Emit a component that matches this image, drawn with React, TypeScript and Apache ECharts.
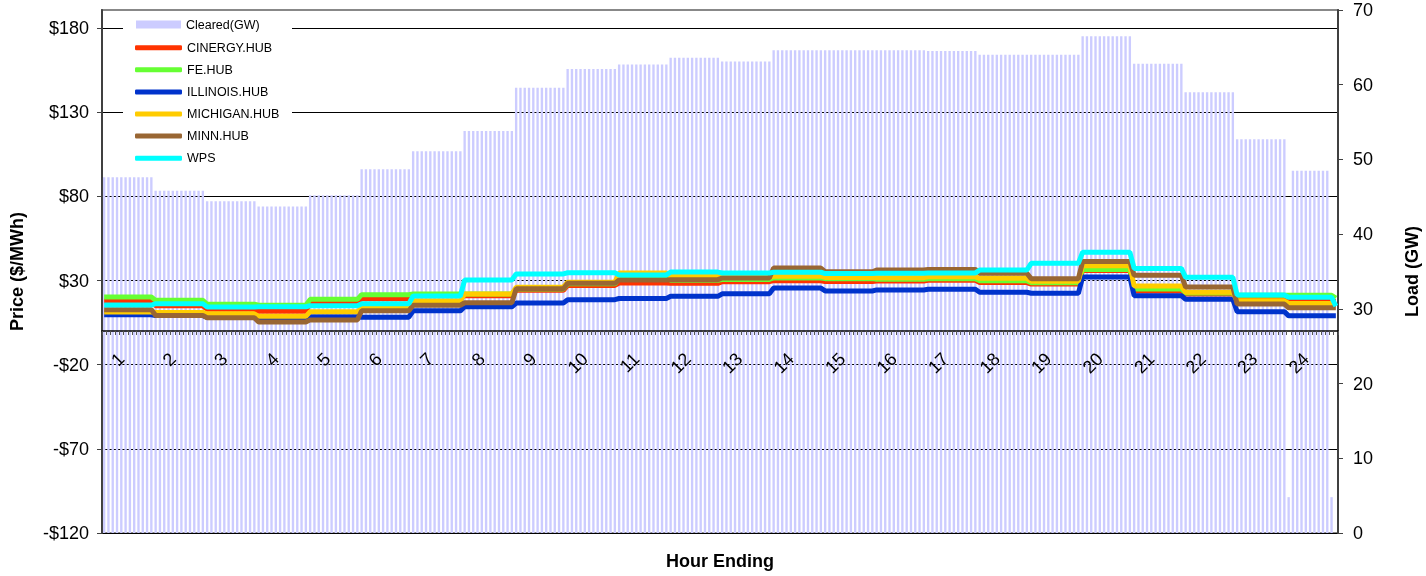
import React, { useEffect, useRef } from 'react';
import * as echarts from 'echarts';

const FONT = '"Liberation Sans", Arial, sans-serif';

const hours = ['1','2','3','4','5','6','7','8','9','10','11','12','13','14','15','16','17','18','19','20','21','22','23','24'];
const intervalsPerHour = 12;

const loadByHour = [47.6, 45.8, 44.4, 43.7, 45.2, 48.7, 51.1, 53.8, 59.6, 62.1, 62.7, 63.6, 63.1, 64.6, 64.6, 64.6, 64.5, 64.0, 64.0, 66.5, 62.8, 59.0, 52.7, 48.5];
// individual 5-minute intervals that differ from the hourly level
const loadOverrides: [number, number | null][] = [[276, 4.8], [286, 4.8], [287, null]];

const cinergy = [17.8, 15.0, 12.9, 11.7, 17.0, 19.2, 21.0, 21.0, 24.2, 27.1, 28.5, 28.3, 29.3, 29.9, 29.4, 29.7, 30.1, 28.8, 27.9, 36.0, 23.8, 22.0, 19.6, 17.6];
const fe = [20.2, 18.2, 15.9, 15.3, 18.8, 21.6, 22.0, 22.0, 25.0, 28.0, 31.3, 30.2, 30.6, 31.5, 31.1, 30.7, 31.0, 29.9, 28.7, 36.6, 25.0, 22.6, 21.3, 21.2];
const illinois = [9.7, 9.2, 8.0, 6.5, 8.5, 8.2, 12.0, 14.4, 16.6, 18.6, 19.3, 20.6, 22.1, 25.5, 23.8, 24.4, 24.8, 23.0, 22.4, 32.1, 21.0, 18.8, 11.5, 9.0];
const michigan = [11.3, 11.0, 10.2, 8.7, 11.5, 13.6, 17.8, 22.0, 26.0, 29.0, 34.5, 32.6, 31.8, 32.6, 31.8, 31.7, 32.2, 31.3, 29.6, 38.8, 26.7, 23.0, 17.9, 16.4];
const minn = [12.7, 9.2, 7.9, 5.3, 6.6, 12.0, 15.3, 16.8, 25.1, 28.3, 30.3, 30.5, 31.5, 37.4, 35.2, 36.2, 36.6, 34.3, 31.1, 41.3, 33.1, 26.1, 16.0, 13.8];
const wps = [15.4, 16.2, 14.3, 14.4, 15.0, 16.2, 20.8, 30.3, 33.9, 34.6, 33.3, 35.0, 34.5, 34.9, 34.1, 34.3, 34.5, 36.2, 40.2, 46.8, 37.2, 31.9, 21.4, 20.0];
// last interval values that differ from the hourly level
const feLast = 19.5;
const wpsLast = 14.8;

const priceMin = -120;
const priceMax = 190.7;
const priceTicks = [-120, -70, -20, 30, 80, 130, 180];

const expand = (arr: number[]) => arr.flatMap((v) => Array(intervalsPerHour).fill(v) as (number | null)[]);
const categories = hours.flatMap((h) => Array.from({ length: intervalsPerHour }, (_, k) => `${h}-${k + 1}`));

const GRID_TOP = 10;
const GRID_BOTTOM = 43;
const CHART_H = 576;

export default function App() {
  const ref = useRef<HTMLDivElement>(null);
  useEffect(() => {
    if (!ref.current) return;
    const chart = echarts.init(ref.current, undefined, { renderer: 'svg' });

    const loadData = expand(loadByHour);
    loadOverrides.forEach(([i, v]) => { loadData[i] = v; });
    const feData = expand(fe); feData[feData.length - 1] = feLast;
    const wpsData = expand(wps); wpsData[wpsData.length - 1] = wpsLast;

    const lines = [
      { name: 'CINERGY.HUB', color: '#ff3300', data: expand(cinergy) },
      { name: 'FE.HUB', color: '#66ff33', data: feData },
      { name: 'ILLINOIS.HUB', color: '#0033cc', data: expand(illinois) },
      { name: 'MICHIGAN.HUB', color: '#ffcc00', data: expand(michigan) },
      { name: 'MINN.HUB', color: '#996633', data: expand(minn) },
      { name: 'WPS', color: '#00ffff', data: wpsData },
    ];

    const fmtPrice = (v: number) => (v < 0 ? '-$' + Math.abs(v) : '$' + v);

    // the category axis crosses the price axis at $0
    const plotH = CHART_H - GRID_TOP - GRID_BOTTOM;
    const zeroOffset = -plotH * (0 - priceMin) / (priceMax - priceMin);

    chart.setOption({
      animation: false,
      textStyle: { fontFamily: FONT },
      grid: { left: 102, right: 88, top: GRID_TOP, bottom: GRID_BOTTOM, containLabel: false, outerBoundsMode: 'none', show: true, borderColor: '#888', borderWidth: 2, backgroundColor: 'transparent' },
      graphic: [
        { type: 'rect', z: 1, shape: { x: 123, y: 12, width: 169, height: 158 }, style: { fill: '#ffffff' }, silent: true },
      ],
      legend: [
        {
          data: [{ name: 'Cleared(GW)', icon: 'rect' }],
          orient: 'vertical', left: 136, top: 17.5, padding: 0,
          itemWidth: 45, itemHeight: 8,
          textStyle: { fontSize: 12.5, lineHeight: 14, color: '#000', fontFamily: FONT },
          selectedMode: false,
        },
        {
          data: lines.map((l) => ({ name: l.name, icon: 'roundRect', itemStyle: { color: l.color, borderWidth: 0 } })),
          orient: 'vertical', left: 135, top: 40.7, padding: 0,
          itemWidth: 47, itemHeight: 5, itemGap: 8.1,
          textStyle: { fontSize: 12.5, lineHeight: 14, color: '#000', fontFamily: FONT },
          selectedMode: false,
        },
      ],
      xAxis: {
        type: 'category',
        data: categories,
        boundaryGap: true,
        position: 'bottom',
        offset: zeroOffset,
        z: 5,
        name: 'Hour Ending',
        nameLocation: 'middle',
        nameGap: 221,
        nameMoveOverlap: false,
        nameTextStyle: { fontSize: 18, fontWeight: 'bold', color: '#000', fontFamily: FONT },
        axisLine: { show: true, onZero: false, lineStyle: { color: '#000', width: 1.5 } },
        axisTick: { show: true, interval: 0, length: 4, lineStyle: { color: '#555', width: 1 } },
        axisLabel: {
          interval: (index: number) => index % intervalsPerHour === 4,
          formatter: (v: string) => v.split('-')[0],
          rotate: 45,
          margin: 25,
          fontSize: 18,
          color: '#000',
          fontFamily: FONT,
        },
        splitLine: { show: false },
      },
      yAxis: [
        {
          type: 'value',
          position: 'left',
          min: priceMin,
          max: priceMax,
          interval: 50,
          name: 'Price ($/MWh)',
          nameLocation: 'middle',
          nameGap: 76,
          nameTextStyle: { fontSize: 18, fontWeight: 'bold', color: '#000', fontFamily: FONT },
          axisLine: { show: true, lineStyle: { color: '#404040', width: 2 } },
          axisTick: { show: true, length: 5, lineStyle: { color: '#404040' }, customValues: priceTicks },
          axisLabel: { formatter: fmtPrice, fontSize: 18, color: '#000', margin: 13, fontFamily: FONT, customValues: priceTicks },
          splitLine: { show: true, lineStyle: { color: '#000', width: 1 } },
        },
        {
          type: 'value',
          position: 'right',
          min: 0,
          max: 70,
          interval: 10,
          name: 'Load (GW)',
          nameLocation: 'middle',
          nameGap: 65,
          nameTextStyle: { fontSize: 18, fontWeight: 'bold', color: '#000', fontFamily: FONT },
          axisLine: { show: true, lineStyle: { color: '#404040', width: 2 } },
          axisTick: { show: true, length: 5, lineStyle: { color: '#404040' } },
          axisLabel: { fontSize: 18, color: '#000', margin: 15, fontFamily: FONT },
          splitLine: { show: false },
        },
      ],
      series: [
        {
          name: 'Cleared(GW)',
          type: 'bar',
          yAxisIndex: 1,
          data: loadData,
          barWidth: '55%',
          itemStyle: { color: '#ccccff' },
          silent: true,
        },
        ...lines.map((l) => ({
          name: l.name,
          type: 'line',
          yAxisIndex: 0,
          data: l.data,
          showSymbol: false,
          symbol: 'none',
          color: l.color,
          itemStyle: { color: l.color },
          lineStyle: { color: l.color, width: 5 },
          silent: true,
        })),
      ],
    });
    return () => chart.dispose();
  }, []);
  return <div ref={ref} style={{ position: 'fixed', left: 0, top: 0, width: '1426px', height: '576px' }} />;
}
